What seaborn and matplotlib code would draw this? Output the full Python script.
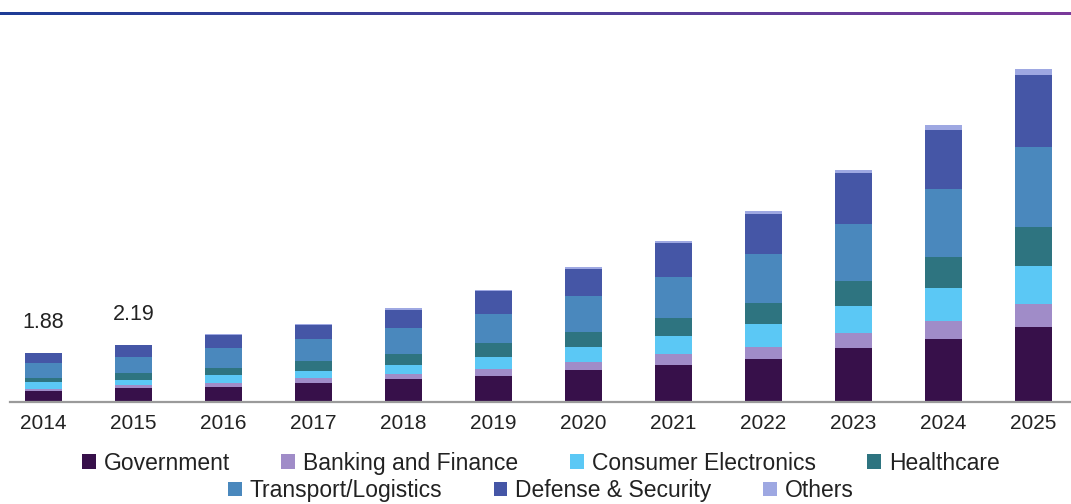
import numpy as np
import pandas as pd
import matplotlib
matplotlib.use("Agg")
import matplotlib.pyplot as plt
from matplotlib.patches import Patch
from matplotlib.colors import LinearSegmentedColormap
import seaborn as sns

years = ["2014", "2015", "2016", "2017", "2018", "2019", "2020", "2021", "2022", "2023", "2024", "2025"]
government = [0.39, 0.52, 0.58, 0.72, 0.87, 1.00, 1.23, 1.42, 1.64, 2.07, 2.41, 2.90]
banking = [0.11, 0.10, 0.13, 0.18, 0.19, 0.26, 0.30, 0.41, 0.49, 0.57, 0.72, 0.88]
consumer = [0.24, 0.22, 0.30, 0.29, 0.36, 0.48, 0.60, 0.71, 0.89, 1.06, 1.25, 1.48]
healthcare = [0.17, 0.26, 0.28, 0.39, 0.41, 0.52, 0.58, 0.69, 0.79, 0.97, 1.20, 1.48]
transport = [0.58, 0.64, 0.78, 0.84, 1.03, 1.14, 1.36, 1.61, 1.92, 2.22, 2.65, 3.10]
defense = [0.37, 0.43, 0.51, 0.54, 0.70, 0.87, 1.07, 1.28, 1.55, 1.94, 2.29, 2.82]
others = [0.02, 0.02, 0.03, 0.04, 0.05, 0.06, 0.07, 0.08, 0.10, 0.13, 0.20, 0.22]
annotated = {"2014": "1.88", "2015": "2.19"}

series_names = ["Government", "Banking and Finance", "Consumer Electronics", "Healthcare",
                "Transport/Logistics", "Defense & Security", "Others"]
series_values = [government, banking, consumer, healthcare, transport, defense, others]
colors = ["#37104a", "#a08cc8", "#5bc8f5", "#2e7480", "#4a88bd", "#4556a6", "#9ea8e2"]

sns.set_theme(style="white")
plt.rcParams["font.family"] = ["Liberation Sans", "DejaVu Sans"]

df = pd.DataFrame({"year": years})
for name, vals in zip(series_names, series_values):
    df[name] = vals
cum = df[series_names].cumsum(axis=1)

fig = plt.figure(figsize=(10.71, 5.04), dpi=100)
ax = fig.add_axes([10 / 1071, 102.5 / 504, 1 - 10 / 1071, (401.5 - 40) / 504])

for name, color in reversed(list(zip(series_names, colors))):
    sns.barplot(x=df["year"], y=cum[name], color=color, width=0.41, ax=ax,
                saturation=1, edgecolor="none", linewidth=0)

totals = cum[series_names[-1]]
for i, y in enumerate(years):
    if y in annotated:
        ax.annotate(annotated[y], (i, totals[i]), xytext=(0, 22), textcoords="offset points",
                    ha="center", va="center", fontsize=15.5, color="#222222")

ax.set_xlim(-0.37, 11.42)
ax.set_ylim(0, 14.0)
ax.set_xlabel("")
ax.set_ylabel("")
ax.set_yticks([])
for s in ["top", "right", "left"]:
    ax.spines[s].set_visible(False)
ax.spines["bottom"].set_color("#9a9a9a")
ax.spines["bottom"].set_linewidth(1.6)
ax.tick_params(axis="x", length=0, pad=9, labelsize=15, labelcolor="#222222")

h1 = [Patch(facecolor=c, edgecolor="none") for c in colors[:4]]
h2 = [Patch(facecolor=c, edgecolor="none") for c in colors[4:]]
leg_kw = dict(frameon=False, fontsize=16.5, handlelength=0.6, handleheight=0.6,
              handletextpad=0.35, columnspacing=2.25, borderaxespad=0, labelcolor="#222222")
leg1 = fig.legend(h1, series_names[:4], ncol=4, loc="center", bbox_to_anchor=(0.505, 0.081), **leg_kw)
leg2 = fig.legend(h2, series_names[4:], ncol=3, loc="center", bbox_to_anchor=(0.505, 0.027), **leg_kw)

# gradient rule at top
gax = fig.add_axes([0, (504 - 15) / 504, 1, 3 / 504])
grad = np.linspace(0, 1, 512).reshape(1, -1)
cmap = LinearSegmentedColormap.from_list("g", ["#1e3c96", "#4a3f9a", "#7a3a9a"])
gax.imshow(grad, aspect="auto", cmap=cmap, extent=[0, 1, 0, 1])
gax.axis("off")

fig.savefig("out.png", dpi=100)
